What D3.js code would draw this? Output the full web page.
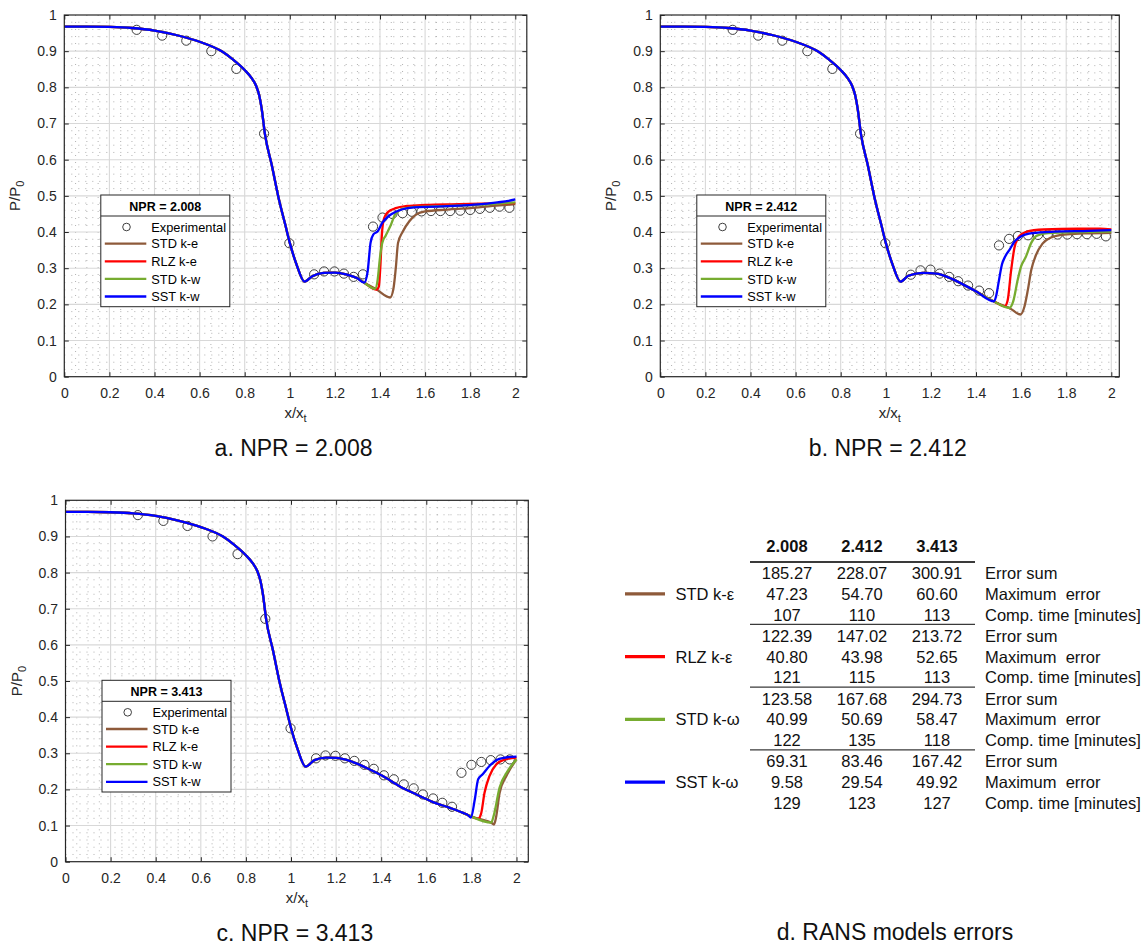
<!DOCTYPE html>
<html>
<head>
<meta charset="utf-8">
<script src="https://cdn.jsdelivr.net/npm/d3@7"></script>
<style>
  body { margin: 0; background: #fff; }
  svg { display: block; }
</style>
</head>
<body>
<svg id="fig" width="1146" height="945"></svg>
<script>
// ---------------- data ----------------
// nozzle wall pressure, common part of all CFD curves (x/xt, P/P0)
const upstreamX = [0, 0.1, 0.2, 0.3, 0.4, 0.5, 0.6, 0.7, 0.75, 0.8, 0.83, 0.85, 0.865, 0.875, 0.89, 0.92, 0.95, 0.98, 1.0, 1.03];
const upstreamP = [0.968, 0.968, 0.967, 0.964, 0.957, 0.944, 0.926, 0.899, 0.876, 0.848, 0.826, 0.805, 0.776, 0.742, 0.67, 0.585, 0.495, 0.42, 0.37, 0.31];

// common part after the throat, up to the shock foot
const coreA = [[1.065, 0.263], [1.1, 0.278], [1.15, 0.287], [1.2, 0.288], [1.25, 0.283], [1.3, 0.272], [1.33, 0.26]];
const coreB = [[1.065, 0.263], [1.1, 0.279], [1.165, 0.287], [1.225, 0.285], [1.28, 0.274], [1.34, 0.256], [1.4, 0.236], [1.48, 0.208]];
const coreC = [[1.065, 0.263], [1.104, 0.281], [1.156, 0.288], [1.2, 0.287], [1.26, 0.279], [1.333, 0.26], [1.407, 0.237],
  [1.481, 0.209], [1.556, 0.186], [1.63, 0.165], [1.704, 0.149], [1.763, 0.135], [1.785, 0.129]];

// model tails: STD k-e, RLZ k-e, STD k-w, SST k-w
const stdKeA = [[1.38, 0.243], [1.445, 0.219], [1.46, 0.245], [1.47, 0.3], [1.48, 0.37], [1.5, 0.4], [1.53, 0.43], [1.56, 0.448], [1.6, 0.457], [1.7, 0.462], [1.8, 0.466], [1.9, 0.472], [2.0, 0.477]];
const rlzKeA = [[1.385, 0.241], [1.395, 0.25], [1.402, 0.31], [1.408, 0.39], [1.418, 0.438], [1.435, 0.455], [1.47, 0.466], [1.52, 0.472], [1.6, 0.475], [1.75, 0.477], [1.9, 0.479], [2.0, 0.48]];
const stdKwA = [[1.378, 0.243], [1.39, 0.27], [1.4, 0.33], [1.41, 0.37], [1.425, 0.39], [1.445, 0.415], [1.47, 0.452], [1.5, 0.464], [1.55, 0.469], [1.7, 0.472], [1.85, 0.476], [2.0, 0.482]];
const sstKwA = [[1.345, 0.29], [1.358, 0.37], [1.37, 0.393], [1.39, 0.402], [1.41, 0.425], [1.44, 0.445], [1.47, 0.456], [1.5, 0.463], [1.55, 0.468], [1.65, 0.47], [1.75, 0.473], [1.85, 0.477], [1.92, 0.482], [1.97, 0.486], [2.0, 0.49]];

const stdKeB = [[1.527, 0.195], [1.548, 0.19], [1.597, 0.172], [1.615, 0.194], [1.63, 0.24], [1.645, 0.295], [1.665, 0.335], [1.695, 0.368], [1.73, 0.384], [1.79, 0.393], [1.88, 0.396], [2.0, 0.398]];
const rlzKeB = [[1.527, 0.195], [1.54, 0.21], [1.555, 0.29], [1.57, 0.355], [1.59, 0.387], [1.62, 0.4], [1.7, 0.407], [1.85, 0.409], [1.95, 0.409], [2.0, 0.407]];
const stdKwB = [[1.548, 0.19], [1.565, 0.208], [1.585, 0.268], [1.6, 0.305], [1.62, 0.33], [1.645, 0.37], [1.67, 0.39], [1.72, 0.397], [1.85, 0.4], [2.0, 0.401]];
const sstKwB = [[1.49, 0.225], [1.5, 0.26], [1.515, 0.31], [1.53, 0.333], [1.55, 0.352], [1.57, 0.373], [1.6, 0.388], [1.65, 0.397], [1.75, 0.401], [1.9, 0.403], [2.0, 0.405]];

const stdKeC = [[1.83, 0.119], [1.89, 0.107], [1.9, 0.103], [1.91, 0.125], [1.925, 0.19], [1.955, 0.237], [2.0, 0.283]];
const rlzKeC = [[1.83, 0.119], [1.843, 0.133], [1.858, 0.19], [1.88, 0.237], [1.91, 0.269], [1.95, 0.283], [2.0, 0.288]];
const stdKwC = [[1.888, 0.108], [1.9, 0.13], [1.925, 0.205], [1.96, 0.25], [2.0, 0.283]];
const sstKwC = [[1.798, 0.122], [1.815, 0.172], [1.83, 0.228], [1.85, 0.242], [1.88, 0.265], [1.91, 0.281], [1.95, 0.288], [2.0, 0.291]];

// experimental taps
const expUpX = [0.321, 0.434, 0.541, 0.652, 0.763, 0.886, 0.998];
const expUpP = [0.959, 0.943, 0.929, 0.9, 0.851, 0.672, 0.369];
const expA = [[1.108, 0.283], [1.152, 0.291], [1.198, 0.291], [1.24, 0.285], [1.283, 0.276], [1.324, 0.283], [1.369, 0.415],
  [1.411, 0.44], [1.455, 0.45], [1.5, 0.452], [1.541, 0.456], [1.584, 0.457], [1.626, 0.458], [1.668, 0.458], [1.711, 0.458],
  [1.756, 0.459], [1.8, 0.461], [1.843, 0.464], [1.887, 0.467], [1.93, 0.47], [1.974, 0.467]];
const expB = [[1.111, 0.282], [1.154, 0.294], [1.198, 0.296], [1.239, 0.285], [1.281, 0.276], [1.321, 0.264], [1.365, 0.252],
  [1.414, 0.238], [1.458, 0.231], [1.502, 0.363], [1.547, 0.381], [1.586, 0.389], [1.631, 0.391], [1.675, 0.392], [1.718, 0.393],
  [1.762, 0.393], [1.805, 0.393], [1.848, 0.394], [1.892, 0.394], [1.935, 0.395], [1.976, 0.388]];
const expC = [[1.111, 0.286], [1.153, 0.294], [1.197, 0.293], [1.239, 0.286], [1.281, 0.279], [1.326, 0.268], [1.367, 0.257],
  [1.412, 0.239], [1.456, 0.228], [1.5, 0.214], [1.544, 0.203], [1.585, 0.186], [1.63, 0.175], [1.671, 0.163], [1.714, 0.152],
  [1.756, 0.246], [1.8, 0.268], [1.844, 0.276], [1.886, 0.281], [1.929, 0.283], [1.97, 0.283]];

const nprLabels = ['2.008', '2.412', '3.413'];
const legendNames = ['STD k-e', 'RLZ k-e', 'STD k-w', 'SST k-w'];
const modelNames = ['STD k-\u03b5', 'RLZ k-\u03b5', 'STD k-\u03c9', 'SST k-\u03c9'];
const modelColors = ['#8e5a3a', '#ff0000', '#77ac30', '#0000ff'];
const rowLabels = ['Error sum', 'Maximum  error', 'Comp. time [minutes]'];

const errorSum = [[185.27, 228.07, 300.91], [122.39, 147.02, 213.72], [123.58, 167.68, 294.73], [69.31, 83.46, 167.42]];
const maxError = [[47.23, 54.70, 60.60], [40.80, 43.98, 52.65], [40.99, 50.69, 58.47], [9.58, 29.54, 49.92]];
const compTime = [[107, 110, 113], [121, 115, 113], [122, 135, 118], [129, 123, 127]];

const xTicks = d3.range(0, 11).map(i => i * 0.2);
const yTicks = d3.range(0, 11).map(i => i * 0.1);

// ---------------- drawing ----------------
const svg = d3.select('#fig');
const font = '"Liberation Sans", Arial, Helvetica, sans-serif';
const axisColor = '#262626';
const pxPerUnit = 225.5;

const upstream = upstreamX.map((v, i) => [v, upstreamP[i]]);
const expUp = expUpX.map((v, i) => [v, expUpP[i]]);

const panels = [
    { left: 64.3, top: 15, width: 462.5, height: 361.7, npr: nprLabels[0], caption: 'a. NPR = 2.008',
      core: coreA, tails: [stdKeA, rlzKeA, stdKwA, sstKwA], exp: expA },
    { left: 660.3, top: 15, width: 459, height: 361.7, npr: nprLabels[1], caption: 'b. NPR = 2.412',
      core: coreB, tails: [stdKeB, rlzKeB, stdKwB, sstKwB], exp: expB },
    { left: 65.5, top: 500.3, width: 462.8, height: 361.4, npr: nprLabels[2], caption: 'c. NPR = 3.413',
      core: coreC, tails: [stdKeC, rlzKeC, stdKwC, sstKwC], exp: expC }
];

function drawPanel(p) {
    const g = svg.append('g').attr('transform', `translate(${p.left},${p.top})`);
    const x = d3.scaleLinear().domain([0, 2]).range([0, 2 * pxPerUnit]);
    const y = d3.scaleLinear().domain([0, 1]).range([p.height, 0]);

    // minor dotted grid
    const minorX = d3.range(1, 42).filter(i => i % 4).map(i => i * 0.05).filter(v => x(v) < p.width - 1);
    const minorY = d3.range(1, 50).filter(i => i % 5).map(i => i * 0.02);
    g.append('g')
        .selectAll('line')
        .data(minorX)
        .join('line')
        .attr('x1', d => x(d)).attr('x2', d => x(d))
        .attr('y1', 0).attr('y2', p.height)
        .attr('stroke', '#a9a9a9')
        .attr('stroke-width', 0.9)
        .attr('stroke-dasharray', '1,6');
    g.append('g')
        .selectAll('line')
        .data(minorY)
        .join('line')
        .attr('x1', 0).attr('x2', p.width)
        .attr('y1', d => y(d)).attr('y2', d => y(d))
        .attr('stroke', '#a9a9a9')
        .attr('stroke-width', 0.9)
        .attr('stroke-dasharray', '1,6');

    // major grid
    g.append('g')
        .selectAll('line')
        .data(xTicks.slice(1))
        .join('line')
        .attr('x1', d => x(d)).attr('x2', d => x(d))
        .attr('y1', 0).attr('y2', p.height)
        .attr('stroke', '#d8d8d8')
        .attr('stroke-width', 1.1);
    g.append('g')
        .selectAll('line')
        .data(yTicks.slice(1, -1))
        .join('line')
        .attr('x1', 0).attr('x2', p.width)
        .attr('y1', d => y(d)).attr('y2', d => y(d))
        .attr('stroke', '#d8d8d8')
        .attr('stroke-width', 1.1);

    // experimental circles (drawn first, lines go over them)
    g.append('g')
        .selectAll('circle')
        .data(expUp.concat(p.exp))
        .join('circle')
        .attr('cx', d => x(d[0]))
        .attr('cy', d => y(d[1]))
        .attr('r', 4.6)
        .attr('fill', 'none')
        .attr('stroke', '#2a2a2a')
        .attr('stroke-width', 0.9);

    // CFD lines
    const line = d3.line()
        .x(d => x(d[0]))
        .y(d => y(d[1]))
        .curve(d3.curveMonotoneX);
    p.tails.forEach(function(tail, i) {
        const pts = upstream.concat(p.core);
        // drop shared points that lie after the tail start
        const start = tail[0][0];
        const body = pts.filter(d => d[0] < start);
        g.append('path')
            .attr('d', line(body.concat(tail)))
            .attr('fill', 'none')
            .attr('stroke', modelColors[i])
            .attr('stroke-width', 2.3)
            .attr('stroke-linejoin', 'round');
    });

    // axes with inward ticks on all sides
    const fmt = d3.format('~g');
    const styleAxis = s => s.attr('font-size', 14).attr('font-family', font).attr('color', axisColor)
        .call(a => a.select('.domain').remove());
    g.append('g')
        .attr('transform', `translate(0,${p.height})`)
        .call(d3.axisBottom(x).tickValues(xTicks).tickSizeInner(-4.5).tickSizeOuter(0).tickPadding(11.5).tickFormat(fmt))
        .call(styleAxis);
    g.append('g')
        .call(d3.axisTop(x).tickValues(xTicks).tickSizeInner(-4.5).tickSizeOuter(0).tickFormat(''))
        .call(styleAxis);
    g.append('g')
        .call(d3.axisLeft(y).tickValues(yTicks).tickSizeInner(-4.5).tickSizeOuter(0).tickPadding(7.5).tickFormat(fmt))
        .call(styleAxis);
    g.append('g')
        .attr('transform', `translate(${p.width},0)`)
        .call(d3.axisRight(y).tickValues(yTicks).tickSizeInner(-4.5).tickSizeOuter(0).tickFormat(''))
        .call(styleAxis);
    g.append('rect')
        .attr('width', p.width)
        .attr('height', p.height)
        .attr('fill', 'none')
        .attr('stroke', axisColor)
        .attr('stroke-width', 1.2);

    // axis labels
    const yl = g.append('text')
        .attr('transform', `translate(-44,${p.height / 2}) rotate(-90)`)
        .attr('text-anchor', 'middle')
        .attr('font-family', font)
        .attr('font-size', 15)
        .attr('fill', axisColor);
    yl.append('tspan').text('P/P');
    yl.append('tspan').attr('font-size', 11).attr('dy', 4).text('0');

    const xl = g.append('text')
        .attr('x', p.width / 2)
        .attr('y', p.height + 41)
        .attr('text-anchor', 'middle')
        .attr('font-family', font)
        .attr('font-size', 15)
        .attr('fill', axisColor);
    xl.append('tspan').text('x/x');
    xl.append('tspan').attr('font-size', 11).attr('dy', 4).text('t');

    // legend
    const lg = g.append('g').attr('transform', 'translate(36.5,180)');
    lg.append('rect')
        .attr('width', 129)
        .attr('height', 111.7)
        .attr('fill', '#fff')
        .attr('stroke', axisColor)
        .attr('stroke-width', 1);
    lg.append('line')
        .attr('x1', 0).attr('x2', 129)
        .attr('y1', 21).attr('y2', 21)
        .attr('stroke', axisColor)
        .attr('stroke-width', 1);
    lg.append('text')
        .attr('x', 64.5)
        .attr('y', 16)
        .attr('text-anchor', 'middle')
        .attr('font-family', font)
        .attr('font-size', 12.5)
        .attr('font-weight', 'bold')
        .text('NPR = ' + p.npr);
    lg.append('circle')
        .attr('cx', 25.7)
        .attr('cy', 32)
        .attr('r', 3.8)
        .attr('fill', 'none')
        .attr('stroke', '#2a2a2a')
        .attr('stroke-width', 0.9);
    lg.append('text')
        .attr('x', 50.5)
        .attr('y', 36.5)
        .attr('font-family', font)
        .attr('font-size', 12.8)
        .text('Experimental');
    legendNames.forEach(function(name, i) {
        const ly = 48.7 + i * 17.6;
        lg.append('line')
            .attr('x1', 4).attr('x2', 45.5)
            .attr('y1', ly).attr('y2', ly)
            .attr('stroke', modelColors[i])
            .attr('stroke-width', 2.3);
        lg.append('text')
            .attr('x', 50.5)
            .attr('y', ly + 4.6)
            .attr('font-family', font)
            .attr('font-size', 12.8)
            .text(name);
    });

    // caption
    svg.append('text')
        .attr('x', p.left + p.width / 2 - 2)
        .attr('y', p.top + p.height + 79.5)
        .attr('text-anchor', 'middle')
        .attr('font-family', font)
        .attr('font-size', 23)
        .attr('fill', '#111')
        .text(p.caption);
}

panels.forEach(drawPanel);

// ---------------- d. error table ----------------
const colX = d3.scalePoint().domain(nprLabels).range([787, 937]);
const tbl = svg.append('g').attr('font-family', font).attr('font-size', 16.5).attr('fill', '#111');

tbl.selectAll('text.head')
    .data(nprLabels)
    .join('text')
    .attr('class', 'head')
    .attr('x', d => colX(d))
    .attr('y', 552.3)
    .attr('text-anchor', 'middle')
    .attr('font-weight', 'bold')
    .text(d => d);
tbl.append('line')
    .attr('x1', 750).attr('x2', 975)
    .attr('y1', 562).attr('y2', 562)
    .attr('stroke', '#3a3a3a')
    .attr('stroke-width', 1.8);

modelNames.forEach(function(name, m) {
    const top = 579 + m * 62.8;
    const rows = [
        errorSum[m].map(v => v.toFixed(2)),
        maxError[m].map(v => v.toFixed(2)),
        compTime[m].map(v => String(v))
    ];
    rows.forEach(function(vals, r) {
        const by = top + r * 20.8;
        vals.forEach(function(v, c) {
            tbl.append('text')
                .attr('x', colX(nprLabels[c]))
                .attr('y', by)
                .attr('text-anchor', 'middle')
                .text(v);
        });
        tbl.append('text')
            .attr('x', 985)
            .attr('y', by)
            .attr('xml:space', 'preserve')
            .style('white-space', 'pre')
            .text(rowLabels[r]);
    });
    if (m < modelNames.length - 1) {
        tbl.append('line')
            .attr('x1', 750).attr('x2', 975)
            .attr('y1', top + 45.3).attr('y2', top + 45.3)
            .attr('stroke', '#3a3a3a')
            .attr('stroke-width', 1.2);
    }
    tbl.append('line')
        .attr('x1', 625).attr('x2', 665)
        .attr('y1', top + 14.8).attr('y2', top + 14.8)
        .attr('stroke', modelColors[m])
        .attr('stroke-width', 3.2);
    tbl.append('text')
        .attr('x', 675.5)
        .attr('y', top + 20.8)
        .text(name);
});

svg.append('text')
    .attr('x', 895)
    .attr('y', 939.5)
    .attr('text-anchor', 'middle')
    .attr('font-family', font)
    .attr('font-size', 23)
    .attr('fill', '#111')
    .text('d. RANS models errors');
</script>
</body>
</html>
